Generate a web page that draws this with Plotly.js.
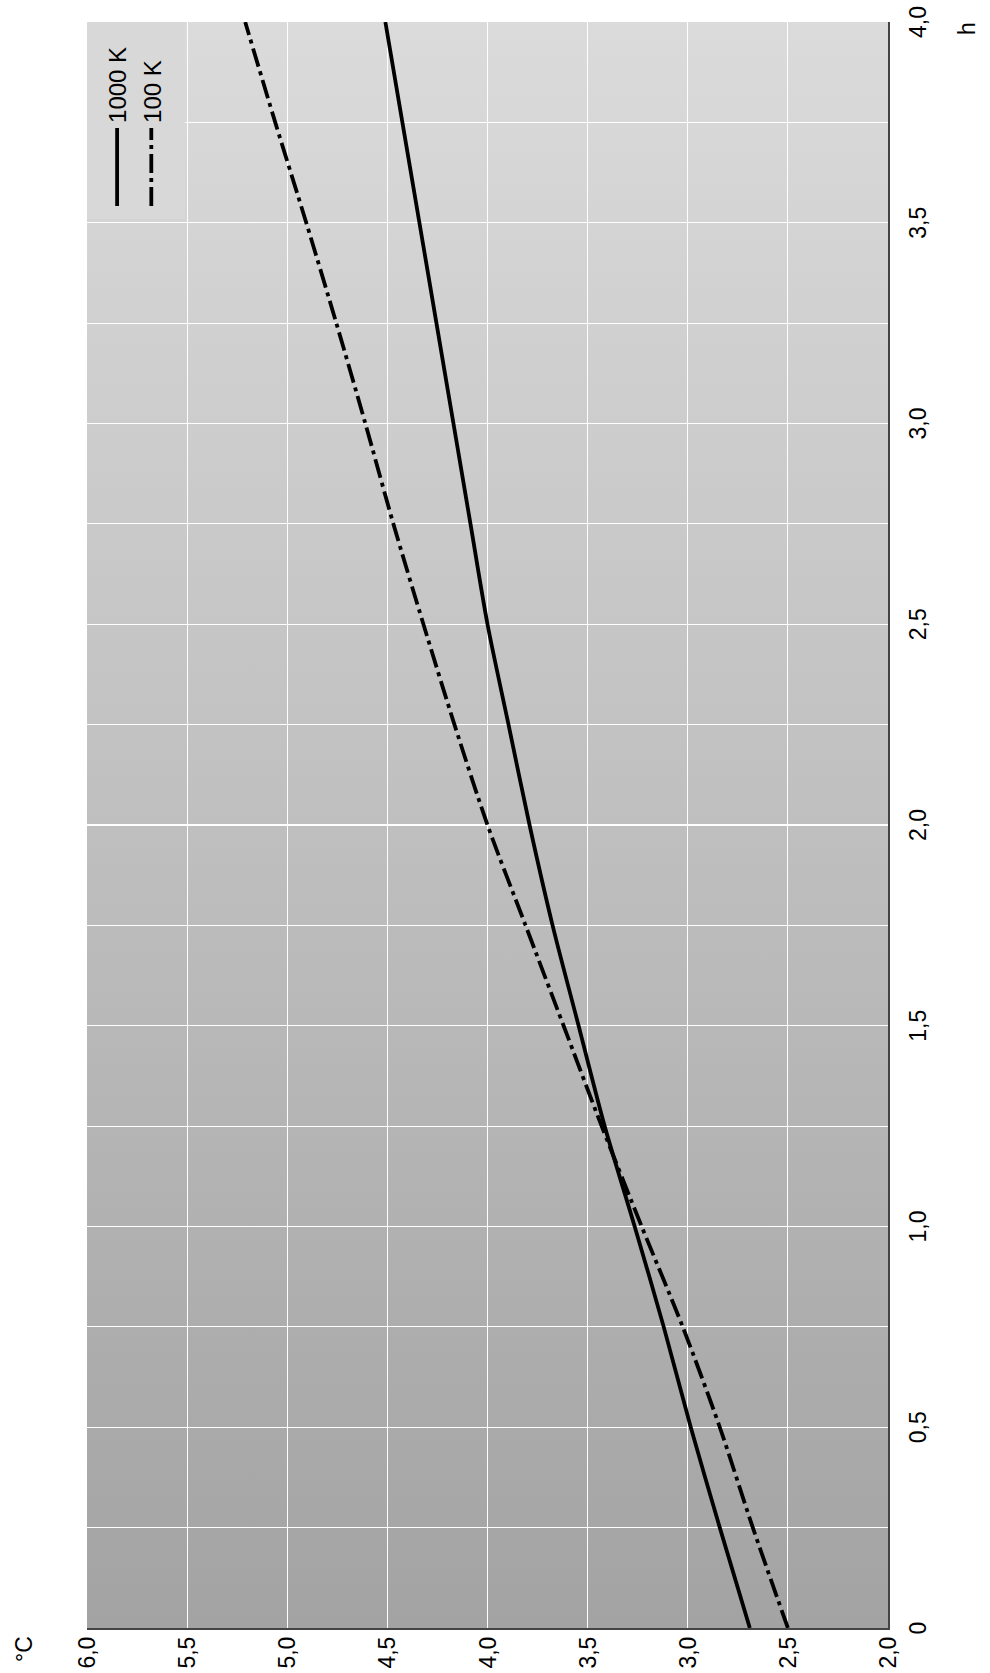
<!DOCTYPE html>
<html>
<head>
<meta charset="utf-8">
<script src="https://cdn.plot.ly/plotly-3.0.1.min.js"></script>
<style>
html,body{margin:0;padding:0;width:990px;height:1673px;overflow:hidden;background:#ffffff;}
#chart{position:absolute;left:0;top:0;width:1673px;height:990px;transform-origin:0 0;transform:translate(0px,1673px) rotate(-90deg);}
</style>
</head>
<body>
<div id="chart"></div>
<script>
// Data (hours vs temperature rise in °C)
const hours = [0, 0.25, 0.5, 0.75, 1.0, 1.25, 1.5, 1.75, 2.0, 2.25, 2.5, 2.75, 3.0, 3.25, 3.5, 3.75, 4.0];
const temp1000K = [2.69, 2.84, 2.985, 3.12, 3.265, 3.415, 3.545, 3.675, 3.79, 3.895, 4.0, 4.085, 4.17, 4.255, 4.34, 4.425, 4.51];
const temp100K = [2.5, 2.675, 2.84, 3.025, 3.23, 3.43, 3.62, 3.81, 4.0, 4.165, 4.32, 4.47, 4.61, 4.755, 4.905, 5.06, 5.21];
const seriesNames = ['1000 K', '100 K'];

// Tick labels
const hTickVals = [0, 0.25, 0.5, 0.75, 1.0, 1.25, 1.5, 1.75, 2.0, 2.25, 2.5, 2.75, 3.0, 3.25, 3.5, 3.75, 4.0];
const hTickText = ['0', '', '0,5', '', '1,0', '', '1,5', '', '2,0', '', '2,5', '', '3,0', '', '3,5', '', '4,0'];
const cTickVals = [2.0, 2.5, 3.0, 3.5, 4.0, 4.5, 5.0, 5.5, 6.0];
const cTickText = ['2,0', '2,5', '3,0', '3,5', '4,0', '4,5', '5,0', '5,5', '6,0'];

const FONT = '"Liberation Sans", Arial, Helvetica, sans-serif';

const gradSvg = "<svg xmlns='http://www.w3.org/2000/svg' width='400' height='100' viewBox='0 0 400 100' preserveAspectRatio='none'>" +
  "<defs><linearGradient id='g' x1='0' y1='0' x2='1' y2='0'>" +
  "<stop offset='0' stop-color='#a3a3a3'/><stop offset='1' stop-color='#dbdbdb'/>" +
  "</linearGradient></defs><rect x='0' y='0' width='400' height='100' fill='url(#g)'/></svg>";
const gradUri = 'data:image/svg+xml;charset=utf-8,' + encodeURIComponent(gradSvg);

const traces = [
  {
    x: hours, y: temp1000K, name: seriesNames[0], type: 'scatter', mode: 'lines',
    line: {color: '#000000', width: 3.8, shape: 'spline', smoothing: 0.8}
  },
  {
    x: hours, y: temp100K, name: seriesNames[1], type: 'scatter', mode: 'lines',
    line: {color: '#000000', width: 3.8, shape: 'spline', smoothing: 0.8, dash: '19px,5px,4px,5px'}
  }
];

const layout = {
  width: 1673, height: 990,
  margin: {l: 45, r: 22, t: 87, b: 102, pad: 0},
  paper_bgcolor: '#ffffff',
  plot_bgcolor: 'rgba(0,0,0,0)',
  font: {family: FONT, size: 23, color: '#000000'},
  showlegend: true,
  legend: {
    x: 0.9882, xanchor: 'right', y: 0.99, yanchor: 'top',
    bgcolor: 'rgba(0,0,0,0)', borderwidth: 0,
    font: {family: FONT, size: 24, color: '#000000'},
    itemwidth: 78, traceorder: 'normal'
  },
  xaxis: {
    range: [0, 4], tickmode: 'array', tickvals: hTickVals, ticktext: hTickText,
    showgrid: true, gridcolor: '#ffffff', gridwidth: 1.2,
    zeroline: false, showline: true, linecolor: '#444444', linewidth: 2,
    ticks: '', ticklabelstandoff: 8,
    tickfont: {family: FONT, size: 23, color: '#000000'},
    fixedrange: true
  },
  yaxis: {
    range: [2, 6], tickmode: 'array', tickvals: cTickVals, ticktext: cTickText,
    showgrid: true, gridcolor: '#ffffff', gridwidth: 1.2,
    zeroline: false, showline: true, linecolor: '#444444', linewidth: 2,
    ticks: '', ticklabelstandoff: 2,
    tickfont: {family: FONT, size: 23, color: '#000000'},
    fixedrange: true
  },
  images: [{
    source: gradUri, xref: 'paper', yref: 'paper', x: 0, y: 1, sizex: 1, sizey: 1,
    xanchor: 'left', yanchor: 'top', sizing: 'stretch', layer: 'below'
  }],
  shapes: [{
    type: 'rect', xref: 'paper', yref: 'paper', x0: 0.8773, x1: 1, y0: 0.8777, y1: 1,
    fillcolor: '#d8d8d8', line: {width: 0}, layer: 'above'
  }],
  annotations: [
    {text: '°C', xref: 'paper', yref: 'paper', x: 0, y: 1, xanchor: 'right', yanchor: 'bottom',
     xshift: -6, yshift: 48, showarrow: false, font: {family: FONT, size: 23, color: '#000000'}},
    {text: 'h', xref: 'paper', yref: 'paper', x: 1, y: 0, xanchor: 'right', yanchor: 'top',
     xshift: 2, yshift: -64, showarrow: false, font: {family: FONT, size: 23, color: '#000000'}}
  ]
};

Plotly.newPlot('chart', traces, layout, {staticPlot: true, displayModeBar: false});
</script>
</body>
</html>
